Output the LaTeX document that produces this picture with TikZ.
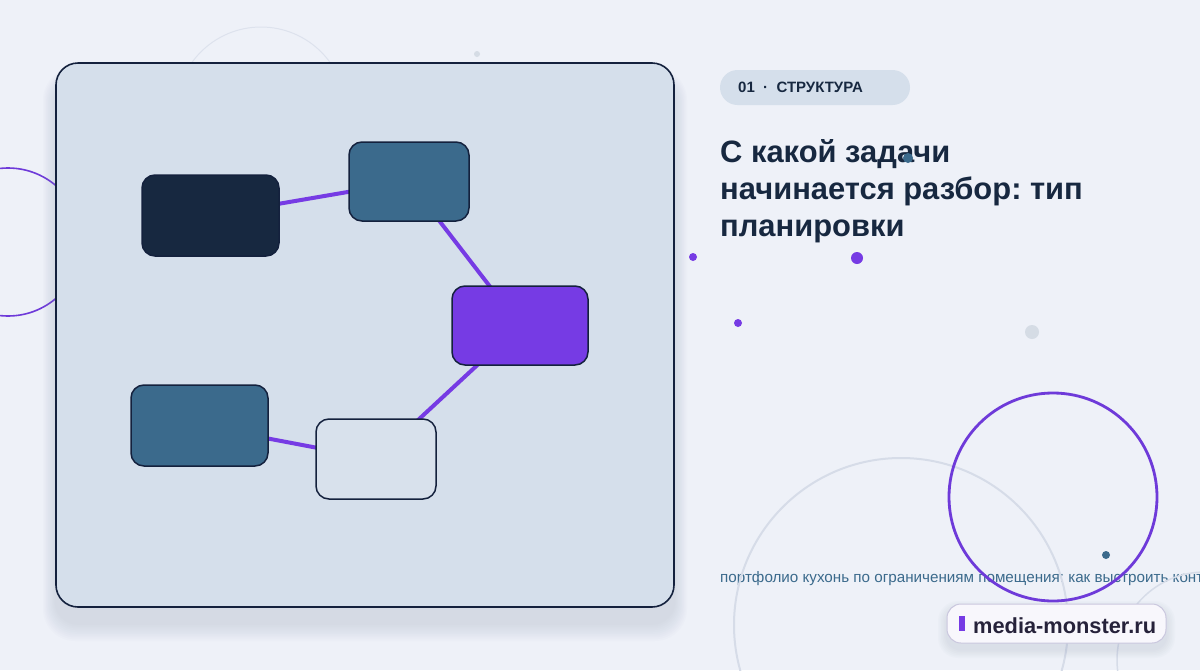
\documentclass[tikz,border=0pt]{standalone}
\usepackage{fontspec}
\setmainfont{Liberation Sans}
\definecolor{bgc}{HTML}{EEF1F8}
\definecolor{panelc}{HTML}{D5DFEB}
\definecolor{navy}{HTML}{14213D}
\definecolor{darkn}{HTML}{172840}
\definecolor{tealc}{HTML}{3B6A8C}
\definecolor{purp}{HTML}{763BE4}
\definecolor{purpline}{HTML}{6E3AD9}
\definecolor{greyc}{HTML}{D6DCE8}
\definecolor{greyd}{HTML}{D5DCE5}
\definecolor{lightnode}{HTML}{D8E1EC}
\definecolor{wmfill}{HTML}{F8F7FC}
\definecolor{wmline}{HTML}{CAC7DE}
\definecolor{wmtext}{HTML}{26223A}
\definecolor{shad}{HTML}{8A94AE}
\pgfdeclarelayer{bg}
\pgfdeclarelayer{edges}
\pgfsetlayers{bg,edges,main}
\tikzset{
  nodebox/.style={draw=navy, line width=1.5pt, rounded corners=13pt, inner sep=0pt},
  edge/.style={draw=purp, line width=4pt},
  dot/.style={circle, inner sep=0pt},
  txt/.style={anchor=base west, inner sep=0pt},
}
\frenchspacing
\begin{document}
\begin{tikzpicture}[x=1pt,y=-1pt]
\useasboundingbox (0,0) rectangle (1200,670);
\begin{pgfonlayer}{bg}
  \fill[bgc] (0,0) rectangle (1200,670);
  \draw[purpline, line width=1.6pt] (8,242) circle[radius=74];
  \draw[greyc!70!bgc, line width=1pt] (261,112) circle[radius=85];
  % soft shadow of the panel
  \foreach \i in {1,...,10} {
    \fill[shad, opacity=0.024, rounded corners={22pt+\i pt}]
      (56-\i*1.3,63+18-\i*1.3) rectangle (674+\i*1.3,607+16+\i*1.8);
  }
  \draw[draw=navy, line width=1.6pt, fill=panelc, rounded corners=22pt]
        (56,63) rectangle (674,607);
\end{pgfonlayer}
% nodes
\node[nodebox, fill=darkn, minimum width=137pt, minimum height=81pt] (A) at (210.5,215.5) {};
\node[nodebox, fill=tealc, minimum width=120pt, minimum height=79pt] (B) at (409,181.5) {};
\node[nodebox, fill=purp, minimum width=136pt, minimum height=79pt] (C) at (520,325.5) {};
\node[nodebox, fill=tealc, minimum width=137pt, minimum height=81pt] (D) at (199.5,425.5) {};
\node[nodebox, fill=lightnode, minimum width=120pt, minimum height=80pt] (E) at (376,459) {};
\begin{pgfonlayer}{edges}
  \draw[edge] (A.center) -- (B.center);
  \draw[edge] (B.center) -- (C.center);
  \draw[edge] (C.center) -- (E.center);
  \draw[edge] (D.center) -- (E.center);
\end{pgfonlayer}
% tag
\fill[panelc, rounded corners=17.5pt] (720,70) rectangle (910,105);
\node[txt, text=darkn, font=\fontsize{15}{15}\selectfont\bfseries] (tag) at (738,92.5) {01\ \ ·\ \ СТРУКТУРА};
% title
\node[txt, text=darkn, font=\fontsize{30.9}{37}\selectfont\bfseries] (t1) at (720,162) {С какой задачи};
\node[txt, text=darkn, font=\fontsize{30.9}{37}\selectfont\bfseries] (t2) at (720,199) {начинается разбор: тип};
\node[txt, text=darkn, font=\fontsize{30.9}{37}\selectfont\bfseries] (t3) at (720,236) {планировки};
% subtitle (cut at the right edge, as in the reference)
\node[txt, text=tealc, font=\fontsize{15.2}{15}\selectfont] (sub) at (720,582) {портфолио кухонь по ограничениям помещения: как выстроить конт};
% right decorations
\draw[greyc, line width=2pt] (901,625) circle[radius=167];
\draw[greyc, line width=1.5pt] (1205,660) circle[radius=88];
\draw[purpline, line width=2.8pt] (1053,497) circle[radius=104];
\node[dot, fill=greyd, minimum size=6pt] (g1) at (477,54) {};
\node[dot, fill=purp, minimum size=8pt] (p1) at (693,257) {};
\node[dot, fill=purp, minimum size=12pt] (p2) at (857,258) {};
\node[dot, fill=purp, minimum size=8pt] (p3) at (738,323) {};
\node[dot, fill=greyd, minimum size=14pt] (g2) at (1032,332) {};
\node[dot, fill=tealc, minimum size=8pt] (q1) at (1106,555) {};
\node[dot, fill=tealc, minimum size=10pt] (q2) at (908,158) {};
% watermark
\foreach \i in {1,...,6} {
  \fill[shad, opacity=0.03, rounded corners={14pt+\i pt}]
    (947-\i*1.5,604+6-\i*1.5) rectangle (1166+\i*1.5,643+6+\i*1.5);
}
\draw[wmline, fill=wmfill, line width=1pt, rounded corners=14pt] (947,604) rectangle (1166,643);
\fill[purp] (959,616) rectangle (965,631);
\node[txt, text=wmtext, font=\fontsize{21.8}{22}\selectfont\bfseries] (wm) at (973,633) {media-monster.ru};
\end{tikzpicture}
\end{document}
